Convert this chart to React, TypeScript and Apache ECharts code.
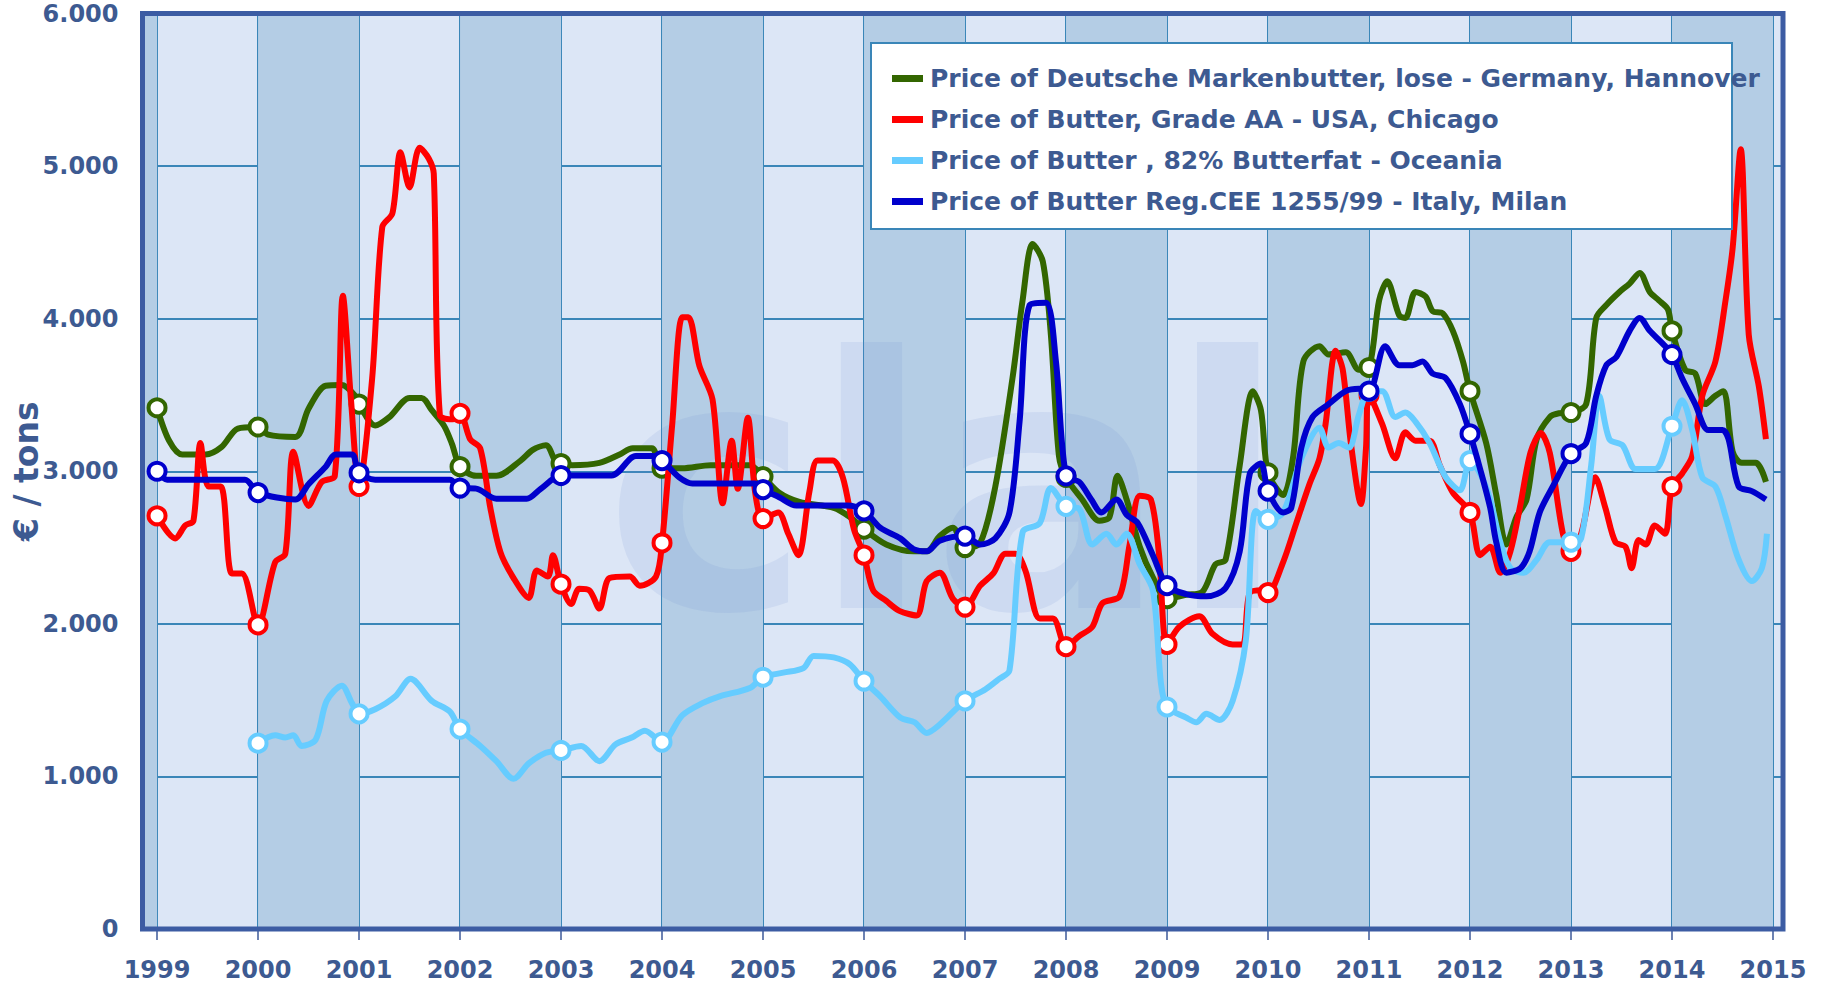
import React, { useEffect, useRef } from "react";
import * as echarts from "echarts";

// ---------- data (decimal year, €/ton) ----------
const YEARS = [1999, 2000, 2001, 2002, 2003, 2004, 2005, 2006, 2007, 2008, 2009, 2010, 2011, 2012, 2013, 2014, 2015];
const DARK_BAND_STARTS = [1998, 2000, 2002, 2004, 2006, 2008, 2010, 2012, 2014];

const SERIES_NAMES = [
  "Price of Deutsche Markenbutter, lose - Germany, Hannover",
  "Price of Butter, Grade AA - USA, Chicago",
  "Price of Butter , 82% Butterfat - Oceania",
  "Price of Butter Reg.CEE 1255/99 - Italy, Milan",
];
const SERIES_COLORS = ["#336600", "#ff0000", "#66ccff", "#0000cc"];

const germany: [number, number][] = [
  [1999.0, 3416], [1999.12, 3200], [1999.25, 3110], [1999.48, 3110], [1999.64, 3160], [1999.8, 3280],
  [2000.0, 3290], [2000.1, 3240], [2000.37, 3225], [2000.5, 3410], [2000.67, 3560], [2000.83, 3565], [2000.96, 3495],
  [2001.0, 3440], [2001.16, 3300], [2001.3, 3355], [2001.5, 3480], [2001.62, 3480], [2001.72, 3400], [2001.84, 3300], [2001.92, 3180],
  [2002.0, 3030], [2002.16, 2970], [2002.36, 2970], [2002.6, 3070], [2002.72, 3140], [2002.85, 3170], [2002.95, 3060],
  [2003.0, 3050], [2003.11, 3040], [2003.38, 3055], [2003.58, 3110], [2003.71, 3150], [2003.9, 3150],
  [2004.0, 3020], [2004.2, 3020], [2004.48, 3040], [2004.87, 3040],
  [2005.0, 2965], [2005.16, 2860], [2005.36, 2800], [2005.7, 2760], [2005.86, 2700],
  [2006.0, 2620], [2006.22, 2520], [2006.49, 2475], [2006.62, 2475], [2006.75, 2575], [2006.88, 2630],
  [2007.0, 2500], [2007.15, 2530], [2007.3, 2900], [2007.47, 3610], [2007.57, 4120], [2007.67, 4490], [2007.77, 4375], [2007.85, 3895], [2007.93, 3100],
  [2008.0, 2960], [2008.16, 2815], [2008.33, 2675], [2008.43, 2700], [2008.51, 2970], [2008.6, 2815], [2008.73, 2505], [2008.86, 2305],
  [2009.0, 2165], [2009.19, 2190], [2009.35, 2210], [2009.48, 2390], [2009.58, 2420], [2009.72, 3040], [2009.85, 3525], [2009.93, 3400],
  [2010.0, 2990], [2010.15, 2845], [2010.25, 3100], [2010.35, 3720], [2010.51, 3820], [2010.6, 3765], [2010.77, 3780], [2010.9, 3665],
  [2011.0, 3680], [2011.1, 4120], [2011.18, 4245], [2011.3, 4020], [2011.36, 4005], [2011.46, 4175], [2011.56, 4145], [2011.63, 4050], [2011.73, 4035], [2011.83, 3920], [2011.93, 3720],
  [2012.0, 3525], [2012.16, 3185], [2012.26, 2845], [2012.36, 2520], [2012.46, 2700], [2012.56, 2815], [2012.66, 3210], [2012.79, 3355], [2012.88, 3380],
  [2013.0, 3385], [2013.15, 3440], [2013.25, 4005], [2013.35, 4090], [2013.48, 4175], [2013.58, 4230], [2013.68, 4300], [2013.78, 4175], [2013.87, 4120], [2013.96, 4060],
  [2014.0, 3920], [2014.13, 3665], [2014.23, 3640], [2014.33, 3440], [2014.43, 3495], [2014.51, 3525], [2014.6, 3130], [2014.69, 3055], [2014.83, 3055], [2014.93, 2930],
];

const usa: [number, number][] = [
  [1999.0, 2708], [1999.18, 2560], [1999.28, 2645], [1999.36, 2675], [1999.43, 3185], [1999.51, 2900], [1999.63, 2900], [1999.74, 2330], [1999.84, 2330],
  [2000.0, 1993], [2000.17, 2405], [2000.27, 2460], [2000.35, 3128], [2000.5, 2773], [2000.63, 2930], [2000.76, 2970], [2000.84, 4150], [2000.92, 3470],
  [2001.0, 2900], [2001.13, 3610], [2001.23, 4600], [2001.33, 4690], [2001.41, 5090], [2001.5, 4860], [2001.6, 5120], [2001.69, 5050], [2001.74, 4950], [2001.8, 3370], [2001.93, 3340],
  [2002.0, 3380], [2002.1, 3210], [2002.2, 3150], [2002.3, 2760], [2002.4, 2470], [2002.53, 2300], [2002.68, 2170], [2002.76, 2350], [2002.87, 2310], [2002.92, 2450],
  [2003.0, 2260], [2003.1, 2130], [2003.18, 2230], [2003.28, 2220], [2003.38, 2100], [2003.48, 2300], [2003.68, 2310], [2003.78, 2250], [2003.94, 2310],
  [2004.0, 2530], [2004.1, 3300], [2004.2, 4010], [2004.26, 4010], [2004.37, 3690], [2004.5, 3470], [2004.6, 2790], [2004.69, 3200], [2004.75, 2885], [2004.85, 3350], [2004.92, 2870],
  [2005.0, 2690], [2005.15, 2730], [2005.25, 2590], [2005.35, 2450], [2005.46, 2870], [2005.54, 3070], [2005.69, 3070], [2005.79, 2960], [2005.9, 2620],
  [2006.0, 2450], [2006.09, 2220], [2006.22, 2150], [2006.35, 2085], [2006.52, 2055], [2006.62, 2280], [2006.75, 2335], [2006.88, 2165],
  [2007.0, 2110], [2007.15, 2250], [2007.28, 2330], [2007.4, 2460], [2007.5, 2460], [2007.6, 2345], [2007.74, 2035], [2007.87, 2035],
  [2008.0, 1850], [2008.13, 1920], [2008.26, 1980], [2008.36, 2135], [2008.53, 2180], [2008.63, 2520], [2008.73, 2840], [2008.84, 2815], [2008.92, 2460],
  [2009.0, 1865], [2009.12, 1980], [2009.32, 2050], [2009.45, 1935], [2009.65, 1865], [2009.75, 1865], [2009.82, 2205], [2009.95, 2220],
  [2010.0, 2205], [2010.15, 2405], [2010.28, 2660], [2010.41, 2915], [2010.51, 3085], [2010.57, 3310], [2010.67, 3790], [2010.74, 3665], [2010.82, 3185], [2010.92, 2785], [2010.97, 3150],
  [2011.0, 3500], [2011.13, 3310], [2011.26, 3085], [2011.36, 3255], [2011.46, 3200], [2011.6, 3200], [2011.7, 3040], [2011.83, 2860],
  [2012.0, 2730], [2012.1, 2450], [2012.2, 2505], [2012.3, 2335], [2012.4, 2475], [2012.5, 2785], [2012.6, 3125], [2012.7, 3250], [2012.79, 3120], [2012.92, 2590],
  [2013.0, 2475], [2013.1, 2590], [2013.24, 2960], [2013.34, 2760], [2013.44, 2535], [2013.54, 2505], [2013.6, 2365], [2013.67, 2550], [2013.74, 2520], [2013.83, 2645], [2013.93, 2590],
  [2014.0, 2900], [2014.1, 2985], [2014.2, 3100], [2014.3, 3495], [2014.43, 3720], [2014.53, 4120], [2014.6, 4460], [2014.68, 5110], [2014.76, 3895], [2014.86, 3555], [2014.93, 3210],
];

const oceania: [number, number][] = [
  [2000.0, 1218], [2000.17, 1270], [2000.27, 1255], [2000.35, 1270], [2000.43, 1200], [2000.57, 1240], [2000.68, 1495], [2000.83, 1595], [2000.93, 1480],
  [2001.0, 1410], [2001.16, 1440], [2001.36, 1525], [2001.51, 1640], [2001.72, 1495], [2001.9, 1425],
  [2002.0, 1310], [2002.2, 1200], [2002.36, 1100], [2002.53, 985], [2002.68, 1085], [2002.85, 1155],
  [2003.0, 1170], [2003.2, 1200], [2003.38, 1100], [2003.54, 1210], [2003.7, 1255], [2003.83, 1300],
  [2004.0, 1225], [2004.2, 1400], [2004.4, 1480], [2004.57, 1525], [2004.87, 1580],
  [2005.0, 1650], [2005.2, 1680], [2005.4, 1710], [2005.5, 1790], [2005.7, 1780], [2005.86, 1735],
  [2006.0, 1625], [2006.16, 1525], [2006.36, 1385], [2006.5, 1355], [2006.62, 1285], [2006.75, 1340],
  [2007.0, 1495], [2007.2, 1570], [2007.34, 1640], [2007.44, 1695], [2007.57, 2600], [2007.74, 2660], [2007.85, 2890],
  [2008.0, 2770], [2008.13, 2755], [2008.26, 2520], [2008.4, 2590], [2008.5, 2520], [2008.6, 2590], [2008.73, 2390], [2008.86, 2220], [2008.94, 1610],
  [2009.0, 1455], [2009.19, 1385], [2009.29, 1355], [2009.39, 1410], [2009.52, 1370], [2009.65, 1495], [2009.78, 1890], [2009.88, 2740],
  [2010.0, 2685], [2010.15, 2730], [2010.33, 3085], [2010.51, 3285], [2010.6, 3155], [2010.7, 3185], [2010.8, 3155], [2010.9, 3370],
  [2011.0, 3525], [2011.13, 3525], [2011.26, 3355], [2011.36, 3385], [2011.46, 3325], [2011.6, 3185], [2011.76, 2960], [2011.9, 2875],
  [2012.0, 3070], [2012.1, 2985], [2012.2, 2815], [2012.3, 2535], [2012.4, 2365], [2012.53, 2335], [2012.66, 2420], [2012.79, 2535],
  [2013.0, 2535], [2013.1, 2560], [2013.2, 3040], [2013.28, 3495], [2013.38, 3210], [2013.51, 3170], [2013.64, 3015], [2013.83, 3015],
  [2014.0, 3295], [2014.1, 3465], [2014.2, 3270], [2014.3, 2960], [2014.43, 2900], [2014.53, 2705], [2014.66, 2420], [2014.79, 2280], [2014.89, 2365], [2014.94, 2590],
];

const italy: [number, number][] = [
  [1999.0, 3000], [1999.1, 2945], [1999.87, 2945],
  [2000.0, 2860], [2000.37, 2815], [2000.5, 2915], [2000.67, 3030], [2000.77, 3110], [2000.93, 3110],
  [2001.0, 2990], [2001.16, 2945], [2001.9, 2945],
  [2002.0, 2890], [2002.16, 2886], [2002.36, 2820], [2002.66, 2820], [2002.8, 2886],
  [2003.0, 2972], [2003.5, 2972], [2003.74, 3100], [2003.9, 3100],
  [2004.0, 3070], [2004.17, 2960], [2004.3, 2920], [2004.92, 2920],
  [2005.0, 2880], [2005.16, 2830], [2005.33, 2775], [2005.83, 2775],
  [2006.0, 2740], [2006.16, 2630], [2006.36, 2560], [2006.49, 2490], [2006.62, 2475], [2006.75, 2545],
  [2007.0, 2575], [2007.15, 2520], [2007.3, 2560], [2007.44, 2730], [2007.54, 3325], [2007.64, 4090], [2007.8, 4105], [2007.9, 3720],
  [2008.0, 2970], [2008.13, 2930], [2008.25, 2815], [2008.35, 2730], [2008.5, 2815], [2008.6, 2715], [2008.71, 2660], [2008.86, 2450],
  [2009.0, 2250], [2009.19, 2195], [2009.39, 2180], [2009.58, 2235], [2009.72, 2475], [2009.82, 2985], [2009.93, 3050],
  [2010.0, 2870], [2010.15, 2730], [2010.23, 2760], [2010.33, 3155], [2010.44, 3355], [2010.6, 3440], [2010.77, 3525], [2010.9, 3540],
  [2011.0, 3525], [2011.16, 3820], [2011.3, 3695], [2011.43, 3695], [2011.53, 3720], [2011.63, 3640], [2011.76, 3610], [2011.9, 3440],
  [2012.0, 3245], [2012.1, 3015], [2012.2, 2760], [2012.26, 2535], [2012.36, 2335], [2012.5, 2365], [2012.59, 2475], [2012.69, 2730], [2012.82, 2900],
  [2013.0, 3115], [2013.15, 3185], [2013.25, 3495], [2013.35, 3695], [2013.45, 3750], [2013.58, 3920], [2013.68, 4005], [2013.78, 3920], [2013.91, 3835],
  [2014.0, 3765], [2014.1, 3610], [2014.23, 3440], [2014.36, 3270], [2014.5, 3270], [2014.56, 3210], [2014.66, 2900], [2014.79, 2870], [2014.93, 2815],
];

const SERIES_DATA = [germany, usa, oceania, italy];

// ---------- styling / layout ----------
const FONT = '"DejaVu Sans", Verdana, sans-serif';
const TEXT_COLOR = "#3d5a91";
const LIGHT_BAND = "#dce6f6";
const DARK_BAND = "#b4cde5";
const GRID_LINE = "#3a86b8";
const FRAME = "#3c5ca3";

const GRID_LEFT = 142.5;
const GRID_TOP = 13.5;
const GRID_RIGHT_EDGE = 1783;
const GRID_BOTTOM_EDGE = 929;
const X_MIN = 1998.856;
const X_MAX = 2015.099;

function thousands(v: number): string {
  return String(v).replace(/\B(?=(\d{3})+(?!\d))/g, ".");
}

function buildOption(): any {
  const bandSeries = {
    type: "line",
    name: "__bands",
    data: [],
    silent: true,
    z: 1,
    markArea: {
      silent: true,
      itemStyle: { color: DARK_BAND },
      data: DARK_BAND_STARTS.map((s) => [{ xAxis: Math.max(s, X_MIN) }, { xAxis: Math.min(s + 1, X_MAX) }]),
    },
  };

  const lineSeries = SERIES_DATA.map((pts, i) => {
    const color = SERIES_COLORS[i];
    return {
      type: "line",
      name: SERIES_NAMES[i],
      z: 3 + i,
      smooth: 0.3,
      showSymbol: true,
      showAllSymbol: true,
      symbolSize: 17,
      lineStyle: { color, width: 6 },
      itemStyle: { color },
      emphasis: { disabled: true },
      data: pts.map(([t, v]) =>
        Number.isInteger(t)
          ? { value: [t, v], symbol: "circle", itemStyle: { color: "#ffffff", borderColor: color, borderWidth: 4 } }
          : { value: [t, v], symbol: "none" }
      ),
    };
  });

  return {
    animation: false,
    backgroundColor: "#ffffff",
    grid: {
      left: GRID_LEFT,
      top: GRID_TOP,
      right: 1821 - GRID_RIGHT_EDGE,
      bottom: 986 - GRID_BOTTOM_EDGE,
      show: true,
      backgroundColor: LIGHT_BAND,
      borderWidth: 0,
      containLabel: false,
      outerBoundsMode: "none",
    },
    legend: {
      data: SERIES_NAMES,
      orient: "vertical",
      left: 892,
      top: 66,
      padding: 0,
      itemWidth: 31,
      itemHeight: 7,
      itemGap: 16,
      icon: "rect",
      z: 30,
      selectedMode: false,
      itemStyle: { borderWidth: 0 },
      textStyle: { fontSize: 25, fontWeight: "bold", color: TEXT_COLOR, fontFamily: FONT, lineHeight: 24, padding: [0, 0, 0, 2] },
    },
    xAxis: {
      type: "value",
      min: X_MIN,
      max: X_MAX,
      axisLine: { show: false },
      axisTick: { show: true, customValues: YEARS, length: 11, lineStyle: { color: "#6d82b2", width: 2 } },
      axisLabel: {
        customValues: YEARS,
        margin: 29,
        fontSize: 24,
        fontWeight: "bold",
        color: TEXT_COLOR,
        fontFamily: FONT,
        formatter: (v: number) => String(v),
      },
      splitLine: { show: true, lineStyle: { color: GRID_LINE, width: 2 } },
    },
    yAxis: {
      type: "value",
      min: 0,
      max: 6000,
      interval: 1000,
      axisLine: { show: false },
      axisTick: { show: false },
      axisLabel: {
        margin: 24,
        fontSize: 24,
        fontWeight: "bold",
        color: TEXT_COLOR,
        fontFamily: FONT,
        padding: [6, 0, 0, 0],
        formatter: (v: number) => thousands(v),
      },
      splitLine: { show: true, lineStyle: { color: GRID_LINE, width: 2 } },
      name: "€ / tons",
      nameLocation: "middle",
      nameRotate: 90,
      nameGap: 100,
      nameMoveOverlap: false,
      nameTextStyle: { fontSize: 33, fontWeight: "bold", color: TEXT_COLOR, fontFamily: FONT },
    },
    graphic: [
      {
        type: "text",
        silent: true,
        z: 2,
        x: 604,
        y: 487,
        style: {
          text: "clal",
          font: 'bold 350px "DejaVu Sans"',
          fill: "rgba(110,140,205,0.13)",
          textVerticalAlign: "middle",
          verticalAlign: "middle",
        },
      },
      {
        type: "rect",
        silent: true,
        z: 10,
        shape: { x: GRID_LEFT, y: GRID_TOP, width: GRID_RIGHT_EDGE - GRID_LEFT, height: GRID_BOTTOM_EDGE - GRID_TOP },
        style: { fill: "none", stroke: FRAME, lineWidth: 5 },
      },
      {
        type: "rect",
        silent: true,
        z: 20,
        shape: { x: 871, y: 43, width: 861, height: 186 },
        style: { fill: "#ffffff", stroke: GRID_LINE, lineWidth: 2 },
      },
    ],
    series: [bandSeries, ...lineSeries],
  };
}

export default function App() {
  const ref = useRef<HTMLDivElement>(null);
  useEffect(() => {
    if (!ref.current) return;
    const chart = echarts.init(ref.current, null, { renderer: "svg" });
    chart.setOption(buildOption());
    return () => chart.dispose();
  }, []);
  return (
    <div
      ref={ref}
      style={{ position: "absolute", left: 0, top: 0, width: 1821, height: 986, background: "#ffffff" }}
    />
  );
}
